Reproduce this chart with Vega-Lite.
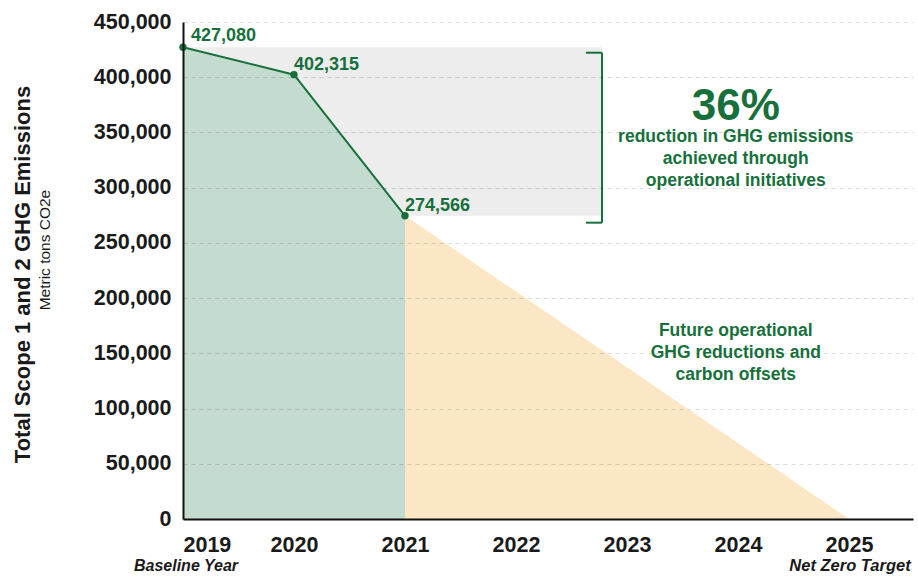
{
  "$schema": "https://vega.github.io/schema/vega-lite/v6.json",
  "width": 730,
  "height": 497,
  "autosize": {"type": "none"},
  "padding": {"left": 183, "top": 22, "right": 5, "bottom": 57},
  "background": "#ffffff",
  "config": {"view": {"stroke": null}, "font": "Liberation Sans"},
  "datasets": {
    "actual": [
      {"year": 2019, "emissions": 427080},
      {"year": 2020, "emissions": 402315},
      {"year": 2021, "emissions": 274566}
    ],
    "future": [
      {"year": 2021, "emissions": 274566},
      {"year": 2025, "emissions": 0}
    ],
    "reduction": [
      {"year": 2019, "year2": 2022.775, "emissions": 274566, "emissions2": 427080}
    ],
    "bracket": [
      {"year": 2022.775, "year2": 2022.775, "emissions": 268300, "emissions2": 422200},
      {"year": 2022.63, "year2": 2022.775, "emissions": 422200, "emissions2": 422200},
      {"year": 2022.63, "year2": 2022.775, "emissions": 268300, "emissions2": 268300}
    ],
    "one": [{}]
  },
  "layer": [
    {
      "data": {"name": "reduction"},
      "mark": {"type": "rect", "color": "#ededed"},
      "encoding": {
        "x": {
          "field": "year", "type": "quantitative",
          "scale": {"domain": [2019, 2025.577], "nice": false, "zero": false},
          "axis": {
            "values": [2019, 2020, 2021, 2022, 2023, 2024, 2025],
            "labelExpr": "format(datum.value, 'd')", "title": null,
            "labelFont": "Liberation Sans", "labelFontSize": 21.5, "labelFontWeight": "bold",
            "labelColor": "#1a1a1a", "labelPadding": 15, "ticks": false,
            "domainColor": "#111111", "domainWidth": 2, "grid": false, "zindex": 1
          }
        },
        "x2": {"field": "year2"},
        "y": {
          "field": "emissions", "type": "quantitative",
          "scale": {"domain": [0, 450000], "nice": false},
          "axis": {
            "values": [0, 50000, 100000, 150000, 200000, 250000, 300000, 350000, 400000, 450000],
            "labelExpr": "format(datum.value, ',')",
            "title": "Total Scope 1 and 2 GHG Emissions",
            "titleFont": "Liberation Sans", "titleFontSize": 22, "titleFontWeight": "bold",
            "titleColor": "#1a1a1a", "titleAngle": -90, "titleX": -161, "titleY": 252,
            "titleAlign": "center", "titleBaseline": "middle",
            "labelFont": "Liberation Sans", "labelFontSize": 21.5, "labelFontWeight": "bold",
            "labelColor": "#1a1a1a", "labelPadding": 12, "ticks": false,
            "domainColor": "#111111", "domainWidth": 2,
            "grid": true, "gridColor": "#000000", "gridOpacity": 0.14, "gridDash": [4, 4],
            "zindex": 1
          }
        },
        "y2": {"field": "emissions2"}
      }
    },
    {
      "data": {"name": "actual"},
      "mark": {"type": "area", "color": "#c4dccf"},
      "encoding": {
        "x": {"field": "year", "type": "quantitative", "scale": {"domain": [2019, 2025.577], "nice": false, "zero": false}},
        "y": {"field": "emissions", "type": "quantitative", "scale": {"domain": [0, 450000], "nice": false}}
      }
    },
    {
      "data": {"name": "future"},
      "mark": {"type": "area", "color": "#fbe6c6"},
      "encoding": {
        "x": {"field": "year", "type": "quantitative", "scale": {"domain": [2019, 2025.577], "nice": false, "zero": false}},
        "y": {"field": "emissions", "type": "quantitative", "scale": {"domain": [0, 450000], "nice": false}}
      }
    },
    {
      "data": {"name": "actual"},
      "mark": {"type": "line", "color": "#17703c", "strokeWidth": 2, "point": {"filled": true, "size": 55, "color": "#17703c"}},
      "encoding": {
        "x": {"field": "year", "type": "quantitative", "scale": {"domain": [2019, 2025.577], "nice": false, "zero": false}},
        "y": {"field": "emissions", "type": "quantitative", "scale": {"domain": [0, 450000], "nice": false}}
      }
    },
    {
      "data": {"name": "actual"},
      "transform": [{"filter": "datum.year == 2019"}],
      "mark": {"type": "text", "align": "left", "baseline": "middle", "dx": 8, "dy": -11, "fontSize": 18, "fontWeight": "bold", "color": "#17703c", "font": "Liberation Sans"},
      "encoding": {
        "x": {"field": "year", "type": "quantitative", "scale": {"domain": [2019, 2025.577], "nice": false, "zero": false}},
        "y": {"field": "emissions", "type": "quantitative", "scale": {"domain": [0, 450000], "nice": false}},
        "text": {"field": "emissions", "type": "quantitative", "format": ","}
      }
    },
    {
      "data": {"name": "actual"},
      "transform": [{"filter": "datum.year != 2019"}],
      "mark": {"type": "text", "align": "left", "baseline": "middle", "dx": 0, "dy": -10, "fontSize": 18, "fontWeight": "bold", "color": "#17703c", "font": "Liberation Sans"},
      "encoding": {
        "x": {"field": "year", "type": "quantitative", "scale": {"domain": [2019, 2025.577], "nice": false, "zero": false}},
        "y": {"field": "emissions", "type": "quantitative", "scale": {"domain": [0, 450000], "nice": false}},
        "text": {"field": "emissions", "type": "quantitative", "format": ","}
      }
    },
    {
      "data": {"name": "bracket"},
      "mark": {"type": "rule", "color": "#17703c", "strokeWidth": 2},
      "encoding": {
        "x": {"field": "year", "type": "quantitative", "scale": {"domain": [2019, 2025.577], "nice": false, "zero": false}},
        "x2": {"field": "year2"},
        "y": {"field": "emissions", "type": "quantitative", "scale": {"domain": [0, 450000], "nice": false}},
        "y2": {"field": "emissions2"}
      }
    },
    {
      "data": {"name": "one"},
      "mark": {"type": "text", "align": "center", "baseline": "middle", "fontSize": 44, "fontWeight": "bold", "color": "#17703c", "font": "Liberation Sans"},
      "encoding": {
        "x": {"datum": 2023.98, "type": "quantitative"},
        "y": {"datum": 373000, "type": "quantitative"},
        "text": {"value": "36%"}
      }
    },
    {
      "data": {"name": "one"},
      "mark": {"type": "text", "align": "center", "baseline": "middle", "fontSize": 17.5, "fontWeight": "bold", "color": "#17703c", "font": "Liberation Sans", "lineHeight": 22},
      "encoding": {
        "x": {"datum": 2023.98, "type": "quantitative"},
        "y": {"datum": 346150, "type": "quantitative"},
        "text": {"value": ["reduction in GHG emissions", "achieved through", "operational initiatives"]}
      }
    },
    {
      "data": {"name": "one"},
      "mark": {"type": "text", "align": "center", "baseline": "middle", "fontSize": 17.5, "fontWeight": "bold", "color": "#17703c", "font": "Liberation Sans", "lineHeight": 22},
      "encoding": {
        "x": {"datum": 2023.98, "type": "quantitative"},
        "y": {"datum": 170220, "type": "quantitative"},
        "text": {"value": ["Future operational", "GHG reductions and", "carbon offsets"]}
      }
    },
    {
      "data": {"name": "one"},
      "mark": {"type": "text", "align": "center", "baseline": "middle", "angle": 270, "dy": -138, "fontSize": 15.5, "color": "#1a1a1a", "font": "Liberation Sans"},
      "encoding": {
        "x": {"datum": 2019, "type": "quantitative"},
        "y": {"datum": 243500, "type": "quantitative"},
        "text": {"value": "Metric tons CO2e"}
      }
    },
    {
      "data": {"name": "one"},
      "mark": {"type": "text", "align": "center", "baseline": "middle", "dx": 3, "dy": 47, "fontSize": 16, "fontWeight": "bold", "fontStyle": "italic", "color": "#1a1a1a", "font": "Liberation Sans"},
      "encoding": {
        "x": {"datum": 2019, "type": "quantitative"},
        "y": {"datum": 0, "type": "quantitative"},
        "text": {"value": "Baseline Year"}
      }
    },
    {
      "data": {"name": "one"},
      "mark": {"type": "text", "align": "center", "baseline": "middle", "dx": 1, "dy": 47, "fontSize": 16.5, "fontWeight": "bold", "fontStyle": "italic", "color": "#1a1a1a", "font": "Liberation Sans"},
      "encoding": {
        "x": {"datum": 2025, "type": "quantitative"},
        "y": {"datum": 0, "type": "quantitative"},
        "text": {"value": "Net Zero Target"}
      }
    }
  ]
}
